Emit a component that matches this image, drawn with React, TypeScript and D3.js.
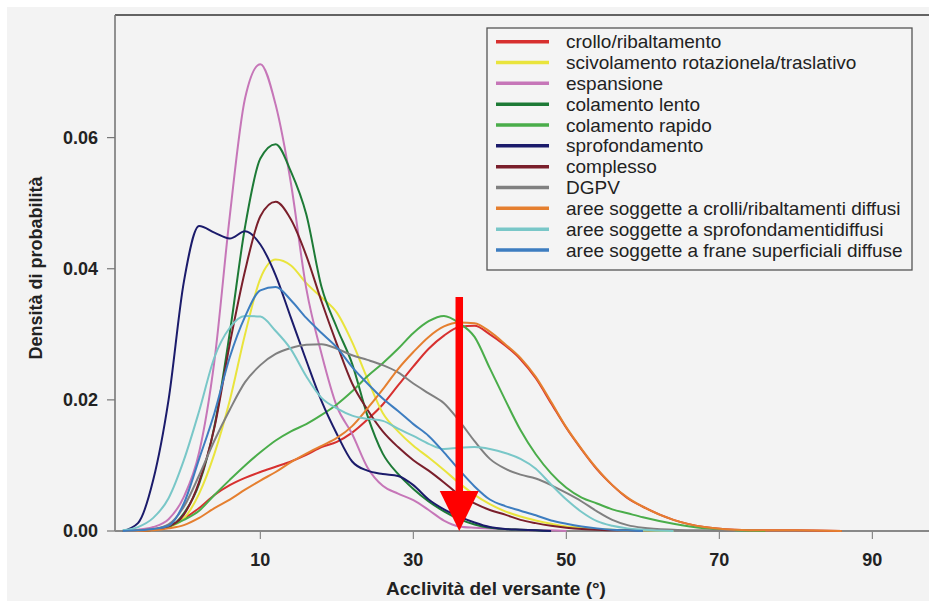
import React from "react";
import * as d3 from "d3";

// slope values (degrees) at which the densities were read
const SLOPE = [-8, -6, -4, -2, 0, 2, 4, 6, 8, 10, 12, 14, 16, 18, 20, 22, 24, 26, 28, 30, 32, 34, 36, 38, 40, 42, 44, 46, 48, 50, 52, 54, 56, 58, 60, 64, 68, 72, 76, 80, 86];

const crollo = [0, 0, 0.0002, 0.0008, 0.0019, 0.0035, 0.0055, 0.007, 0.0081, 0.009, 0.0098, 0.0106, 0.0116, 0.0128, 0.0136, 0.015, 0.017, 0.0193, 0.0222, 0.0251, 0.0278, 0.0298, 0.0311, 0.0313, 0.03, 0.0283, 0.0262, 0.0233, 0.0195, 0.0157, 0.0124, 0.0094, 0.007, 0.005, 0.0037, 0.0017, 0.0006, 0.0002, 0.0001, 0.0001, 0];
const scivolamento = [0, 0, 0.0002, 0.0006, 0.0019, 0.0057, 0.0118, 0.0199, 0.03, 0.0385, 0.0414, 0.0405, 0.0378, 0.0356, 0.0333, 0.0288, 0.0232, 0.018, 0.0152, 0.013, 0.0112, 0.0093, 0.0073, 0.0055, 0.0041, 0.003, 0.0022, 0.0016, 0.0011, 0.0007, 0.0005, 0.0003, 0.0002, 0.0001, 0.0001, 0, 0, 0, 0, 0, 0];
const espansione = [0, 0.0002, 0.0006, 0.0018, 0.0052, 0.012, 0.026, 0.048, 0.066, 0.0712, 0.065, 0.053, 0.037, 0.027, 0.019, 0.0148, 0.0097, 0.0069, 0.0057, 0.0047, 0.0032, 0.0016, 0.0007, 0.0005, 0.0004, 0.0003, 0.0002, 0.0001, 0.0001, 0, 0, 0, 0, 0, 0, 0, 0, 0, 0, 0, 0];
const colamentoLento = [0, 0, 0.0002, 0.0006, 0.0027, 0.0072, 0.016, 0.0302, 0.0464, 0.0568, 0.059, 0.0548, 0.0483, 0.0372, 0.031, 0.0255, 0.0176, 0.0118, 0.0087, 0.0064, 0.0045, 0.003, 0.0018, 0.001, 0.0005, 0.0003, 0.0002, 0.0001, 0, 0, 0, 0, 0, 0, 0, 0, 0, 0, 0, 0, 0];
const colamentoRapido = [0, 0, 0.0002, 0.0007, 0.0017, 0.0031, 0.0055, 0.0078, 0.01, 0.012, 0.0138, 0.0152, 0.0163, 0.0177, 0.0193, 0.0213, 0.0236, 0.0256, 0.0278, 0.0302, 0.032, 0.0328, 0.0317, 0.0296, 0.0248, 0.02, 0.0154, 0.0117, 0.0088, 0.0066, 0.0051, 0.0042, 0.0033, 0.0027, 0.0021, 0.0011, 0.0004, 0.0001, 0, 0, 0];
const sprofondamento = [0, 0.0012, 0.0078, 0.02, 0.038, 0.0465, 0.0455, 0.0446, 0.0457, 0.0437, 0.039, 0.0325, 0.026, 0.0198, 0.0148, 0.0106, 0.0092, 0.0087, 0.0084, 0.007, 0.0048, 0.0033, 0.0022, 0.0013, 0.0006, 0.0003, 0.0002, 0.0001, 0, 0, 0, 0, 0, 0, 0, 0, 0, 0, 0, 0, 0];
const complesso = [0, 0, 0.0002, 0.0007, 0.0025, 0.0075, 0.0158, 0.0285, 0.0397, 0.048, 0.0502, 0.0475, 0.042, 0.035, 0.0285, 0.0225, 0.0185, 0.0152, 0.0128, 0.0108, 0.0092, 0.0074, 0.0055, 0.0042, 0.0032, 0.0025, 0.0017, 0.0012, 0.0008, 0.0005, 0.0003, 0.0002, 0.0001, 0.0001, 0, 0, 0, 0, 0, 0, 0];
const dgpv = [0, 0.0001, 0.0003, 0.001, 0.0037, 0.0085, 0.0138, 0.0185, 0.0227, 0.0253, 0.027, 0.0279, 0.0284, 0.0285, 0.0278, 0.0268, 0.0261, 0.0253, 0.0242, 0.0225, 0.021, 0.0195, 0.0168, 0.0137, 0.011, 0.0095, 0.0086, 0.008, 0.007, 0.0058, 0.0045, 0.003, 0.0017, 0.0009, 0.0005, 0.0002, 0.0001, 0, 0, 0, 0];
const crolliDiffusi = [0, 0, 0.0001, 0.0004, 0.0009, 0.002, 0.0035, 0.0048, 0.0063, 0.0077, 0.009, 0.0105, 0.0118, 0.013, 0.0142, 0.016, 0.0187, 0.0216, 0.0247, 0.0273, 0.0296, 0.0312, 0.0318, 0.0317, 0.0304, 0.0285, 0.0264, 0.0235, 0.0197, 0.0158, 0.0125, 0.0095, 0.007, 0.0051, 0.0037, 0.0017, 0.0006, 0.0002, 0.0001, 0.0001, 0];
const sprofondamentiDiffusi = [0.0001, 0.0006, 0.002, 0.005, 0.0108, 0.0183, 0.0265, 0.031, 0.0328, 0.0327, 0.0305, 0.0277, 0.0236, 0.0203, 0.0187, 0.0176, 0.0171, 0.0168, 0.0156, 0.0145, 0.0133, 0.0125, 0.0127, 0.0128, 0.0125, 0.0119, 0.011, 0.0095, 0.0071, 0.0048, 0.0029, 0.0015, 0.0008, 0.0004, 0.0002, 0, 0, 0, 0, 0, 0];
const franeSuperficiali = [0, 0.0001, 0.0003, 0.0008, 0.0042, 0.011, 0.018, 0.0265, 0.0327, 0.0367, 0.0372, 0.0352, 0.0325, 0.0302, 0.028, 0.025, 0.0225, 0.0202, 0.0183, 0.0163, 0.0145, 0.012, 0.0093, 0.0068, 0.0048, 0.0038, 0.0031, 0.0024, 0.0016, 0.0011, 0.0007, 0.0004, 0.0002, 0.0001, 0, 0, 0, 0, 0, 0, 0];

const SERIES = [
  { name: "crollo/ribaltamento", color: "#d7302f", values: crollo },
  { name: "scivolamento rotazionela/traslativo", color: "#e9e43c", values: scivolamento },
  { name: "espansione", color: "#c676b8", values: espansione },
  { name: "colamento lento", color: "#1d7a36", values: colamentoLento },
  { name: "colamento rapido", color: "#4aad4a", values: colamentoRapido },
  { name: "sprofondamento", color: "#1b1b6b", values: sprofondamento },
  { name: "complesso", color: "#7a1f2b", values: complesso },
  { name: "DGPV", color: "#808080", values: dgpv },
  { name: "aree soggette a crolli/ribaltamenti diffusi", color: "#e57f2f", values: crolliDiffusi },
  { name: "aree soggette a sprofondamentidiffusi", color: "#79c7c8", values: sprofondamentiDiffusi },
  { name: "aree soggette a frane superficiali diffuse", color: "#3d7dc0", values: franeSuperficiali },
];

const X_TICKS = [10, 30, 50, 70, 90];
const Y_TICKS = [0, 0.02, 0.04, 0.06];
const ARROW_SLOPE = 36; // red marker
const ARROW_TOP = 0.0357;

const W = 929;
const H = 601;
const FONT = "'Liberation Sans', Arial, sans-serif";

export default function App() {
  const x = d3.scaleLinear().domain([-9, 97.4]).range([115, 929]);
  const y = d3.scaleLinear().domain([0, 0.0787]).range([531, 15]);

  const line = d3
    .line<[number, number]>()
    .x((d) => x(d[0]))
    .y((d) => y(d[1]))
    .curve(d3.curveMonotoneX);

  // keep points up to the first zero after the last non-zero value
  const pointsOf = (values: number[]) => {
    let last = 0;
    values.forEach((v, i) => { if (v > 0) last = i; });
    const end = Math.min(values.length, last + 2);
    return SLOPE.slice(0, end).map((s, i) => [s, values[i]] as [number, number]);
  };

  const ax = x(ARROW_SLOPE);

  return (
    <svg width={W} height={H} style={{ position: "absolute", left: 0, top: 0, display: "block" }} fontFamily={FONT}>
      <rect x={0} y={0} width={W} height={H} fill="#ffffff" />
      <rect x={7} y={7} width={W - 7} height={H - 7} fill="#f3f3f3" />

      {/* frame */}
      <line x1={115} x2={W} y1={15} y2={15} stroke="#333" strokeWidth={1.6} />
      <line x1={115} x2={115} y1={15} y2={y(0)} stroke="#777" strokeWidth={1.6} />

      {/* y axis */}
      {Y_TICKS.map((t) => (
        <g key={t}>
          <line x1={107} x2={115} y1={y(t)} y2={y(t)} stroke="#777" strokeWidth={1.2} />
          <text x={98} y={y(t)} textAnchor="end" dominantBaseline="central" fontSize={18} fontWeight="bold" fill="#222">
            {d3.format(".2f")(t)}
          </text>
        </g>
      ))}
      <text
        transform={`translate(36, 268) rotate(-90)`}
        textAnchor="middle"
        dominantBaseline="central"
        fontSize={18}
        fontWeight="bold"
        fill="#222"
      >
        Densità di probabilità
      </text>

      {/* x axis */}
      <line x1={115} x2={W} y1={y(0)} y2={y(0)} stroke="#888" strokeWidth={2} />
      {X_TICKS.map((t) => (
        <g key={t}>
          <line x1={x(t)} x2={x(t)} y1={y(0)} y2={y(0) + 8} stroke="#888" strokeWidth={1.2} />
          <text x={x(t)} y={560} textAnchor="middle" dominantBaseline="central" fontSize={18} fontWeight="bold" fill="#222">
            {t}
          </text>
        </g>
      ))}
      <text x={496} y={588} textAnchor="middle" dominantBaseline="central" fontSize={19} fontWeight="bold" fill="#222">
        Acclività del versante (°)
      </text>

      {/* density curves */}
      <g fill="none" strokeWidth={2} strokeLinejoin="round">
        {SERIES.map((s) => (
          <path key={s.name} d={line(pointsOf(s.values)) ?? ""} stroke={s.color} />
        ))}
      </g>

      {/* red marker arrow */}
      <line x1={ax} x2={ax} y1={y(ARROW_TOP)} y2={y(0) - 36} stroke="#ff0000" strokeWidth={7.5} />
      <path d={`M${ax - 19.5},${y(0) - 40} L${ax + 19.5},${y(0) - 40} L${ax},${y(0)} Z`} fill="#ff0000" />

      {/* legend */}
      <g>
        <rect x={487} y={28} width={425} height={242} fill="#f4f4f4" stroke="#555" strokeWidth={1.3} />
        {SERIES.map((s, i) => {
          const ly = 41.7 + i * 20.83;
          return (
            <g key={s.name}>
              <line x1={496} x2={549} y1={ly} y2={ly} stroke={s.color} strokeWidth={3.5} />
              <text x={566} y={ly} dominantBaseline="central" fontSize={19} fill="#222">
                {s.name}
              </text>
            </g>
          );
        })}
      </g>
    </svg>
  );
}
